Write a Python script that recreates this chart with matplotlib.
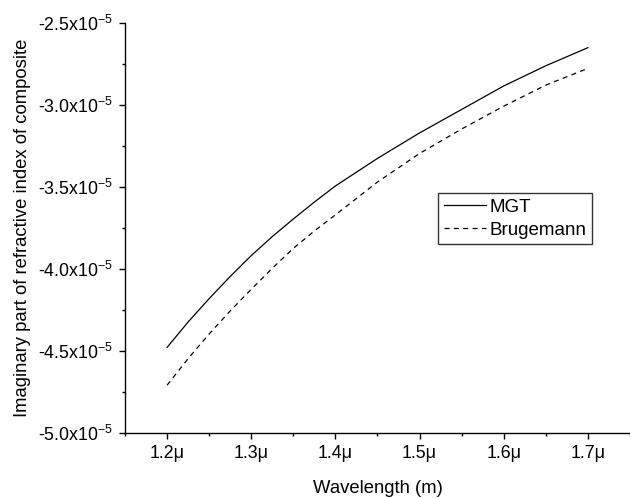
import matplotlib
matplotlib.use("Agg")
import matplotlib.pyplot as plt
from matplotlib.ticker import MultipleLocator, FuncFormatter

plt.rcParams['font.family'] = ['Liberation Sans', 'DejaVu Sans']
plt.rcParams['mathtext.fontset'] = 'custom'
plt.rcParams['mathtext.rm'] = 'Liberation Sans'
plt.rcParams['mathtext.it'] = 'Liberation Sans'
plt.rcParams['mathtext.default'] = 'regular'

wavelength = [1.20, 1.225, 1.25, 1.275, 1.30, 1.325, 1.35, 1.375, 1.40, 1.45, 1.50, 1.55, 1.60, 1.65, 1.70]  # micrometres
mgt = [-4.477, -4.322, -4.180, -4.045, -3.918, -3.802, -3.695, -3.592, -3.494, -3.326, -3.171, -3.028, -2.885, -2.762, -2.652]  # x1e-5
brugemann = [-4.707, -4.545, -4.395, -4.255, -4.123, -3.995, -3.874, -3.768, -3.670, -3.470, -3.296, -3.147, -3.008, -2.880, -2.778]  # x1e-5

fig = plt.figure(figsize=(6.3, 4.98), dpi=100)
ax = fig.add_axes([0.1984, 0.1299, 0.8016, 0.8245])

ax.plot(wavelength, mgt, color='black', lw=0.9, label='MGT')
ax.plot(wavelength, brugemann, color='black', lw=0.9, linestyle=(0, (4, 3.5)), label='Brugemann')

ax.set_xlim(1.15, 1.75)
ax.set_ylim(-5.0, -2.5)

ax.spines['top'].set_visible(False)
ax.spines['right'].set_visible(False)
for s in ('left', 'bottom'):
    ax.spines[s].set_linewidth(1.0)

ax.xaxis.set_major_locator(MultipleLocator(0.1))
ax.xaxis.set_minor_locator(MultipleLocator(0.05))
ax.yaxis.set_major_locator(MultipleLocator(0.5))
ax.yaxis.set_minor_locator(MultipleLocator(0.25))

def xfmt(v, pos):
    if v < 1.19 or v > 1.71:
        return ''
    return f"{v:.1f}\u03bc"

def yfmt(v, pos):
    return f"{v:.1f}x10$^{{-5}}$"

ax.xaxis.set_major_formatter(FuncFormatter(xfmt))
ax.yaxis.set_major_formatter(FuncFormatter(yfmt))

ax.tick_params(which='major', direction='out', length=4.5, width=1.0, labelsize=12.8, pad=4)
ax.tick_params(which='minor', direction='out', length=2.5, width=1.0)

ax.set_xlabel('Wavelength (m)', fontsize=13.3, labelpad=13)
ax.set_ylabel('Imaginary part of refractive index of composite', fontsize=13.3, labelpad=5)

leg = ax.legend(loc='upper left', bbox_to_anchor=(0.62, 0.585), frameon=True, fancybox=False,
                edgecolor='black', fontsize=13.5, handlelength=2.25, handletextpad=0.2,
                borderpad=0.3, labelspacing=0.3, borderaxespad=0)
leg.get_frame().set_linewidth(1.0)

fig.savefig('out.png', dpi=100)
